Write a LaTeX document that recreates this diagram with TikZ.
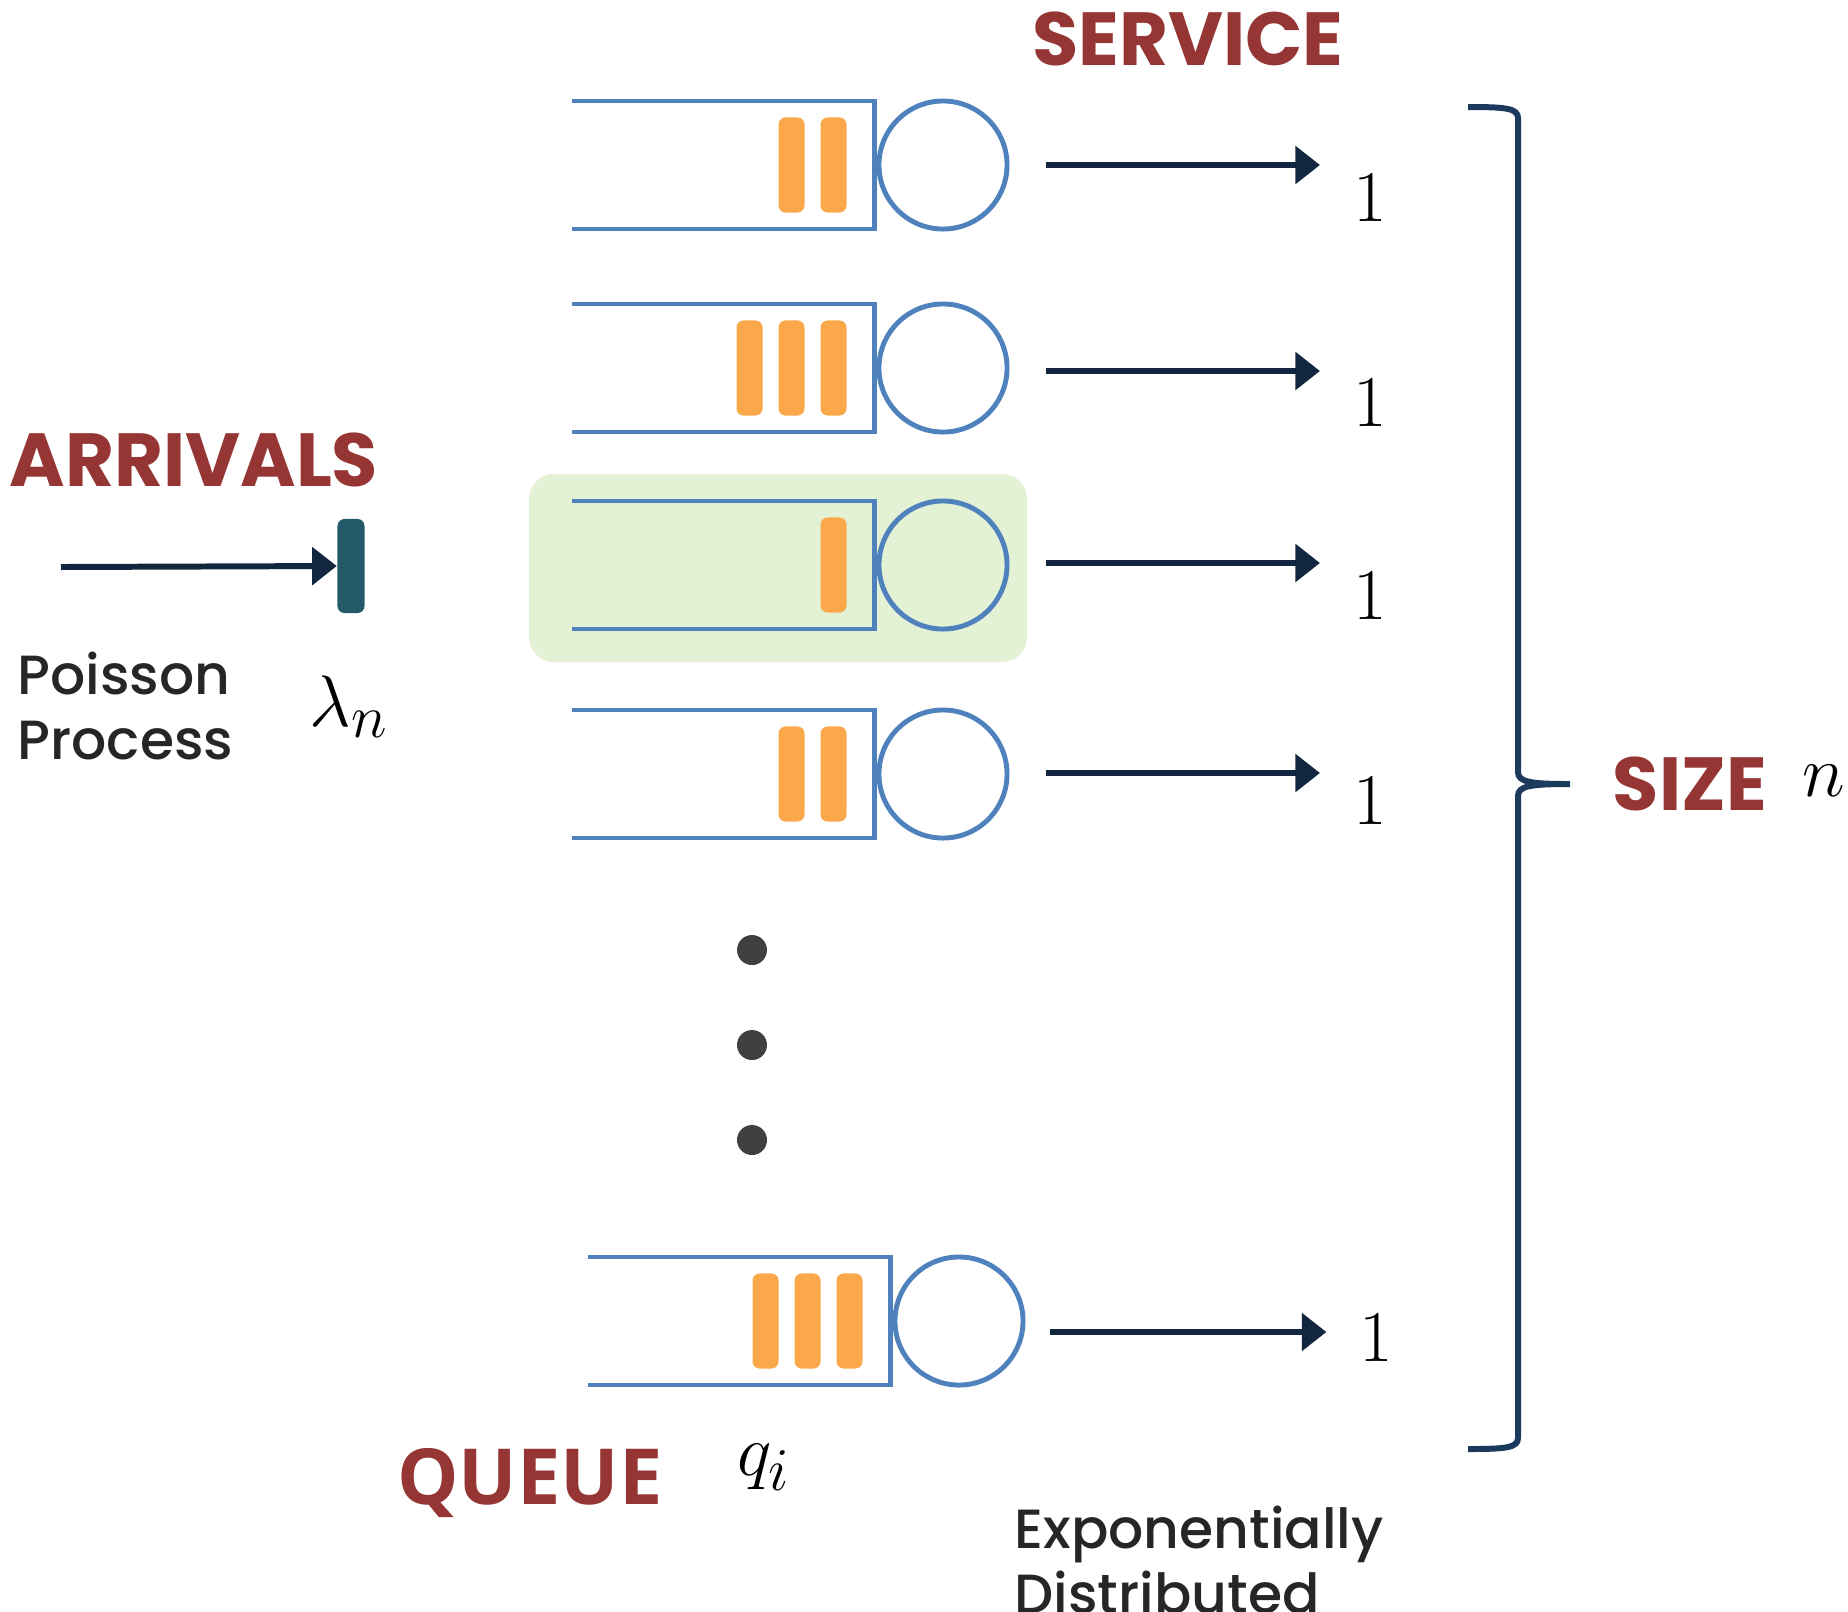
\documentclass[tikz,border=0pt]{standalone}
\usepackage{fontspec}
\setmainfont{Poppins}
\newfontfamily\notefont{Poppins Medium}
\newfontfamily\queuefont{Open Sans}
\DeclareMathSizes{22}{22}{16.5}{12}
\usepackage{tikz}
\usetikzlibrary{arrows.meta,positioning,calc}
\definecolor{titlered}{HTML}{963634}
\definecolor{notegray}{HTML}{262626}
\definecolor{qblue}{HTML}{4F81BD}
\definecolor{jobamber}{HTML}{FBA84A}
\definecolor{hlgreen}{HTML}{E3F1D5}
\definecolor{tokteal}{HTML}{225A69}
\definecolor{flownavy}{HTML}{13263F}
\definecolor{bracenavy}{HTML}{1C3A5E}
\definecolor{dotgray}{HTML}{404040}
\tikzset{title/.style={font=\fontsize{21.4}{21.4}\selectfont\bfseries,text=titlered}}
\tikzset{note/.style={font=\notefont\fontsize{15.7}{18.5}\selectfont,text=notegray,align=left,inner sep=0pt}}
\tikzset{sym/.style={font=\fontsize{22}{22}\selectfont,inner sep=0pt}}
\tikzset{server/.style={circle,draw=qblue,line width=1.4pt,minimum size=1.28cm,inner sep=0pt}}
\tikzset{job/.style={rectangle,fill=jobamber,rounded corners=2pt,minimum width=0.26cm,minimum height=0.95cm,inner sep=0pt}}
\tikzset{lane/.style={draw=qblue,line width=1.4pt}}
\tikzset{flow/.style={draw=flownavy,line width=1.7pt,-{Triangle[length=7pt,width=10.5pt]}}}
\tikzset{dot/.style={circle,fill=dotgray,minimum size=0.3cm,inner sep=0pt}}

\begin{document}
\begin{tikzpicture}[x=0.01cm,y=-0.01cm]
  \useasboundingbox (0,0) rectangle (1848,1611);
  \fill[hlgreen,rounded corners=7pt] (529,474) rectangle (1027,662);
  \foreach \i/\y/\dx/\nb/\ay/\ly in {1/165/0/2/0/33,2/368/0/3/3/32,3/565/0/1/-2/33,4/774/0/2/-1/28,5/1321/16/3/11/6}{
    \node[server] (s\i) at (943+\dx,\y) {};
    \draw[lane] ($(s\i.west)+(-305,-64)$) -| ($(s\i.west)+(-2,64)$) -- ++(-303,0);
    \foreach \k in {1,...,\nb}
      \node[job] (j\i\k) at ($(s\i.west)+(-1-42*\k,0)$) {};
    \coordinate (e\i) at (1320+0.4*\dx,\y+\ay);
    \draw[flow] ([shift={(36-0.7*\dx,\ay)}]s\i.east) -- (e\i);
    \node[sym] (o\i) at ([shift={(50,\ly)}]e\i) {$1$};
  }
  \foreach \j/\y in {1/950,2/1045,3/1140}
    \node[dot] (d\j) at (752,\y) {};
  \node[title] (arrivals) at (194,460) {ARRIVALS};
  \node[rectangle,fill=tokteal,rounded corners=2pt,minimum width=0.27cm,minimum height=0.94cm,inner sep=0pt] (tok) at (351,566) {};
  \coordinate (src) at (61,567);
  \draw[flow] (src) -- (tok.west);
  \node[note,anchor=west] (poisson) at (17,706) {Poisson\\Process};
  \node[sym] (lam) at (349,707) {$\lambda_n$};
  \node[title] (service) at (1188,39) {SERVICE};
  \node[title] (size) at (1690,784) {SIZE};
  \node[sym] (nsize) at (1824,781) {$n$};
  \node[title,font=\queuefont\fontsize{22}{22}\selectfont\bfseries] (queue) at (530,1483) {QUEUE};
  \node[sym] (qi) at (764,1467) {$q_i$};
  \node[note,anchor=west] (expo) at (1014,1560) {Exponentially\\Distributed};
  \draw[bracenavy,line width=1.7pt] (1468,107) .. controls (1505,107) and (1518,108) .. (1518,118)
    -- (1518,772) .. controls (1518,782) and (1530,784) .. (1570,784)
    .. controls (1530,784) and (1518,786) .. (1518,796)
    -- (1518,1438) .. controls (1518,1448) and (1505,1449) .. (1468,1449);
\end{tikzpicture}
\end{document}
